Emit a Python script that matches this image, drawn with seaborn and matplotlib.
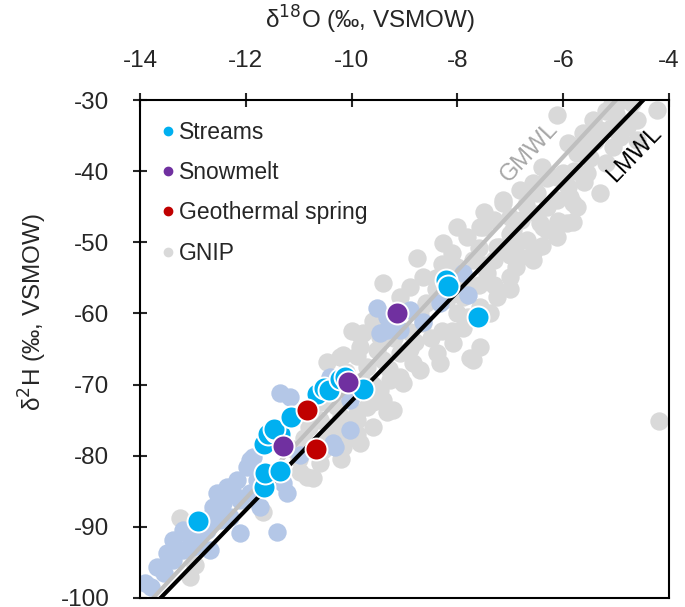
import matplotlib
matplotlib.use("Agg")
import matplotlib.pyplot as plt
import seaborn as sns
import numpy as np
from matplotlib.lines import Line2D

# ---------------- data ----------------
streams_x = [-12.90, -11.65, -11.63, -11.36, -11.66, -11.58, -11.42, -11.35, -11.47, -11.15,
             -10.65, -10.52, -10.42, -10.22, -10.12, -9.78, -8.22, -8.17, -7.62]
streams_y = [-89.2, -84.4, -82.4, -82.1, -78.4, -77.0, -76.6, -77.0, -76.2, -74.6,
             -71.3, -70.5, -70.8, -69.2, -69.0, -70.6, -55.3, -56.1, -60.5]

snow_x = [-9.14, -10.07, -11.30]
snow_y = [-60.0, -69.6, -78.7]

geo_x = [-10.84, -10.68]
geo_y = [-73.6, -79.1]

gnip_x = [-4.93, -4.70, -5.08, -4.23, -6.12, -5.44, -4.60, -5.30, -5.63, -4.93, -4.61, -5.06,
          -5.74, -5.49, -6.40, -6.12, -6.57, -5.30, -5.87, -5.74, -6.82, -7.13, -6.31, -5.81,
          -6.44, -7.51, -7.01, -6.68, -6.57, -7.19, -6.12, -6.50, -6.00, -6.12, -5.55, -6.95,
          -6.31, -6.87,
          -5.00, -5.20, -4.80, -5.40, -5.10, -5.60, -5.90, -5.20, -5.80, -5.60, -6.30, -5.90,
          -6.70, -6.50, -6.10, -6.80, -7.30, -7.00, -6.40, -7.60, -7.00, -6.90, -7.50, -8.30,
          -7.90, -8.40, -7.30, -8.90, -8.20, -8.70, -7.80, -8.50, -9.20, -9.60, -8.10,
          -7.13, -5.81, -5.93, -6.38, -8.01, -7.57, -8.27, -7.82, -7.25, -6.82, -6.57, -8.76,
          -7.01, -7.44, -8.65, -9.09, -7.89, -7.25, -7.57, -9.40, -7.38, -8.65, -8.08, -7.57,
          -7.76, -8.39, -8.84, -7.70, -8.00, -7.30, -8.40, -7.60, -8.00, -8.30, -7.90, -8.60,
          -7.00, -8.10, -7.50,
          -9.78, -9.46, -8.90, -7.70, -8.33, -9.09, -10.16, -10.47, -8.71, -9.27, -9.02, -9.40,
          -9.71, -9.33, -9.59, -9.90, -10.09, -10.16, -10.35, -9.84, -9.09, -9.46, -9.71, -9.52,
          -9.84, -9.22, -9.90, -10.22, -10.54, -10.22, -9.84, -10.00, -10.30, -10.60, -9.60,
          -8.90, -9.30, -10.00,
          -9.40, -9.90, -10.10, -9.80, -9.30, -8.80, -9.60, -10.20, -10.60, -10.40, -9.90,
          -10.50, -10.80, -10.20, -10.60, -11.10,
          -10.84, -10.73, -11.67, -10.98, -10.22, -13.24, -12.96, -13.05, -11.00, -10.90,
          -4.19]
gnip_y = [-30.2, -30.4, -30.6, -31.4, -32.1, -32.8, -32.8, -34.2, -34.6, -35.2, -35.6, -36.6,
          -37.5, -38.2, -39.4, -40.8, -41.7, -43.1, -43.6, -45.0, -42.6, -44.1, -45.0, -47.1,
          -47.3, -47.9, -46.4, -49.7, -51.5, -50.6, -49.2, -43.1, -40.3, -44.1, -40.3, -48.3,
          -48.3, -50.1,
          -32.0, -31.5, -33.8, -35.8, -34.0, -36.5, -36.0, -38.8, -40.0, -41.5, -41.0, -42.2,
          -44.8, -46.0, -47.0, -46.8, -46.8, -48.9, -50.5, -50.8, -51.8, -53.5, -53.2, -53.0,
          -55.5, -55.0, -56.0, -56.3, -58.0, -60.0, -60.5, -63.5, -63.5, -61.0, -62.5,
          -44.5, -44.5, -47.3, -47.9, -47.9, -47.9, -50.1, -49.3, -50.6, -52.1, -52.5, -52.2,
          -54.9, -54.3, -54.9, -57.7, -57.7, -57.7, -59.1, -55.7, -59.9, -61.3, -64.2, -64.7,
          -66.3, -65.6, -67.0, -52.5, -53.5, -52.5, -56.5, -56.0, -60.0, -62.5, -62.0, -58.5,
          -56.5, -51.5, -45.8,
          -62.8, -63.3, -62.6, -66.6, -67.0, -65.6, -65.8, -66.8, -68.0, -69.4, -69.8, -72.2,
          -73.2, -73.9, -76.0, -75.0, -77.4, -78.8, -76.0, -78.2, -69.0, -70.8, -67.5, -65.1,
          -64.7, -73.6, -74.0, -76.4, -79.2, -66.1, -63.0, -71.5, -73.0, -75.0, -70.0,
          -65.0, -61.5, -62.5,
          -66.5, -66.0, -68.2, -69.5, -67.8, -64.0, -72.5, -74.5, -72.5, -71.0, -77.0,
          -77.5, -76.0, -80.5, -81.0, -79.0,
          -83.0, -83.2, -87.9, -82.3, -78.8, -88.8, -95.4, -97.1, -80.5, -77.5,
          -75.1]

gnip2_x = [-7.89, -7.80, -8.33, -8.65, -8.90, -9.33, -9.09,
           -9.52, -9.33, -10.31, -10.41, -10.03,
           -11.35, -11.16, -11.86, -10.35, -10.03, -10.98, -9.46,
           -13.91, -13.68, -13.49, -13.37, -13.37, -13.19, -13.05, -13.19, -12.73, -12.68,
           -12.62, -12.54, -12.36, -12.17, -11.98, -12.43, -12.30, -12.11, -12.11, -11.92,
           -11.79, -11.73, -11.30, -11.41, -11.22, -12.49, -12.92, -12.99, -12.68, -11.92,
           -12.24, -13.80, -13.55]
gnip2_y = [-54.3, -57.4, -58.5, -61.2, -59.5, -60.5, -62.3,
           -59.3, -62.3, -78.8, -68.9, -72.2,
           -71.2, -71.7, -80.2, -78.2, -76.4, -79.9, -62.8,
           -97.9, -95.6, -93.7, -91.8, -94.7, -93.3, -91.4, -90.4, -90.4, -88.6,
           -87.2, -85.3, -84.4, -83.4, -81.6, -86.7, -88.6, -86.2, -90.9, -85.3,
           -83.4, -87.2, -83.8, -90.7, -85.3, -89.0, -91.8, -92.8, -93.3, -80.6,
           -85.3, -98.5, -96.5]

# meteoric water lines: slope, intercept
gmwl_slope, gmwl_int = 8.0, 10.0
lmwl_slope, lmwl_int = 7.67, 4.4

x_ticks = [-14, -12, -10, -8, -6, -4]
y_ticks = [-30, -40, -50, -60, -70, -80, -90, -100]

# ---------------- style ----------------
sns.set_style("white")
plt.rcParams['font.family'] = ['Liberation Sans', 'DejaVu Sans']

C_STREAM = "#00B0F0"
C_SNOW = "#7030A0"
C_GEO = "#C00000"
C_GNIP = "#D9D9D9"
C_GNIP2 = "#B4C7E7"

fig = plt.figure(figsize=(6.85, 6.07), dpi=100)
ax = fig.add_axes([140 / 685, 1 - 598 / 607, (669 - 140) / 685, (598 - 100) / 607])

big = 175
sns.scatterplot(x=gnip_x, y=gnip_y, ax=ax, color=C_GNIP, s=big, linewidth=0, zorder=1, legend=False)
sns.scatterplot(x=gnip2_x, y=gnip2_y, ax=ax, color=C_GNIP2, s=big, linewidth=0, zorder=1.5, legend=False)

xl = np.array([-14.5, -3.5])
ax.plot(xl, gmwl_slope * xl + gmwl_int, color="#BFBFBF", lw=3, zorder=2, solid_capstyle="butt")
ax.plot(xl, lmwl_slope * xl + lmwl_int, color="black", lw=3, zorder=2.5, solid_capstyle="butt")

sz = 250
sns.scatterplot(x=streams_x, y=streams_y, ax=ax, color=C_STREAM, s=sz, edgecolor="white",
                linewidth=1.4, zorder=3, legend=False)
sns.scatterplot(x=snow_x, y=snow_y, ax=ax, color=C_SNOW, s=sz, edgecolor="white",
                linewidth=1.4, zorder=4, legend=False)
sns.scatterplot(x=geo_x, y=geo_y, ax=ax, color=C_GEO, s=sz, edgecolor="white",
                linewidth=1.4, zorder=4, legend=False)

ax.set_xlim(-14, -4)
ax.set_ylim(-100, -30)
ax.set_xticks(x_ticks)
ax.set_yticks(y_ticks)
ax.set_xticklabels([str(t) for t in x_ticks])
ax.set_yticklabels([str(t) for t in y_ticks])

ax.xaxis.tick_top()
ax.xaxis.set_label_position('top')
ax.tick_params(axis='x', direction='inout', length=10, width=1.5, labelsize=17.5, pad=15,
               top=True, bottom=False)
ax.tick_params(axis='y', direction='inout', length=10, width=1.5, labelsize=17.5, pad=17,
               left=True, right=False)
for sp in ax.spines.values():
    sp.set_visible(True)
    sp.set_linewidth(1.5)
    sp.set_color("black")

ax.set_xlabel("δ$^{18}$O (‰, VSMOW)", fontsize=17.5)
ax.set_ylabel("δ$^{2}$H (‰, VSMOW)", fontsize=17.5)
ax.xaxis.set_label_coords((370 - 140) / 529, 1 + (100 - 20) / 498)
ax.xaxis.label.set_verticalalignment('center')
ax.yaxis.set_label_coords(-(140 - 33) / 529, (598 - 312) / 498)
ax.yaxis.label.set_verticalalignment('center')

# line labels
ax.text(-6.63, -37.3, "GMWL", color="#A6A6A6", fontsize=17, rotation=47,
        ha="center", va="center", rotation_mode="anchor")
ax.text(-4.66, -37.6, "LMWL", color="black", fontsize=17, rotation=46,
        ha="center", va="center", rotation_mode="anchor")

handles = [
    Line2D([], [], marker='o', ls='', color=C_STREAM, markersize=6, label="Streams"),
    Line2D([], [], marker='o', ls='', color=C_SNOW, markersize=6, label="Snowmelt"),
    Line2D([], [], marker='o', ls='', color=C_GEO, markersize=6, label="Geothermal spring"),
    Line2D([], [], marker='o', ls='', color=C_GNIP, markersize=6, label="GNIP"),
]
leg = ax.legend(handles=handles, loc="upper left", bbox_to_anchor=(0.0, 0.99), frameon=False,
                fontsize=16.5, handletextpad=0.0, handlelength=1.0, labelspacing=0.75,
                borderaxespad=0.3)

fig.savefig("out.png", dpi=100)
